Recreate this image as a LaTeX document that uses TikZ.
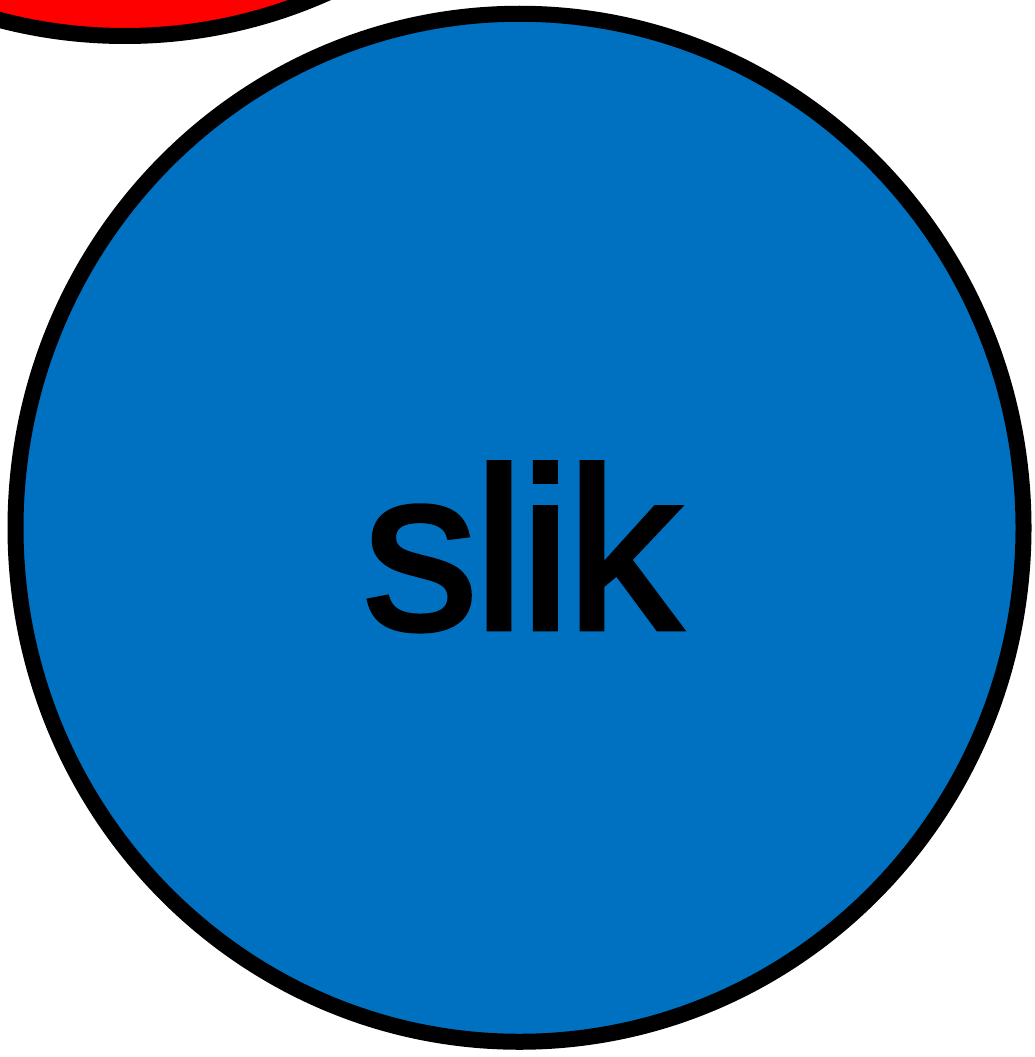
\documentclass[tikz,border=0pt]{standalone}
\usepackage{fontspec}
\newfontfamily\slikfont{Liberation Sans}[FakeBold=2]
\definecolor{slikblue}{HTML}{0070C0}
\definecolor{slikred}{HTML}{FF0000}
\tikzset{
  disc/.style={line width=16pt, draw=black},
  label/.style={font=\slikfont\fontsize{230}{240}\selectfont, inner sep=0pt, text=black}
}
\begin{document}
\begin{tikzpicture}[x=1pt,y=-1pt]
\clip (0,0) rectangle (1034,1057);
\fill[white] (0,0) rectangle (1034,1057);
\draw[disc, fill=slikred] (125,-478) ellipse [x radius=504, y radius=514];
\draw[disc, fill=slikblue] (519.5,527.75) ellipse [x radius=504, y radius=514];
\node[label, anchor=base] (txt) at (522,629) {\addfontfeature{LetterSpace=-2}slik};
\end{tikzpicture}
\end{document}
